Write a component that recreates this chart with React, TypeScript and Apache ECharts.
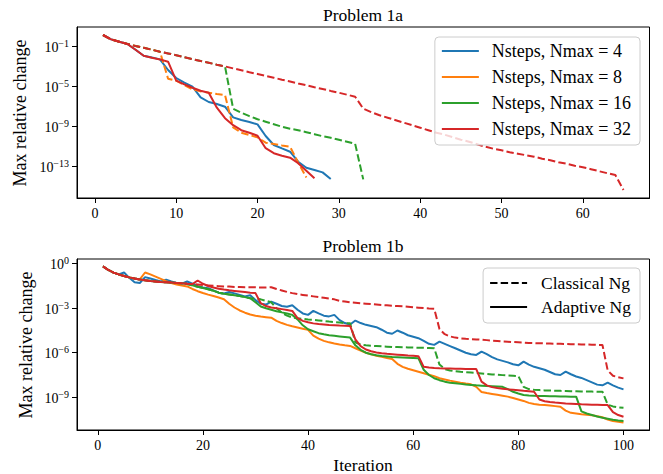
import React, { useEffect, useRef } from "react";
import * as echarts from "echarts";

const FONT = "Liberation Serif";

// ---- tick values (x: iteration, y: log10 exponent) ----
const P1A_X_TICKS = [0, 10, 20, 30, 40, 50, 60];
const P1A_Y_TICKS = [-13, -9, -5, -1];
const P1B_X_TICKS = [0, 20, 40, 60, 80, 100];
const P1B_Y_TICKS = [-9, -6, -3, 0];

const LEGEND_1A = ["Nsteps, Nmax = 4", "Nsteps, Nmax = 8", "Nsteps, Nmax = 16", "Nsteps, Nmax = 32"];
const LEGEND_1B = ["Classical Ng", "Adaptive Ng"];

// ---- Problem 1a: log10(max relative change), iteration 1..n ----
const p1aNmax4Adaptive = [0.17, -0.27, -0.5, -0.73, -1.3, -1.9, -2.07, -2.27, -3.33, -4.13, -4.6, -5.0, -6.07, -6.53, -6.73, -7.0, -8.07, -8.33, -8.53, -8.77, -9.93, -10.83, -11.17, -11.5, -12.5, -13.1, -13.33, -13.57, -14.23];
const p1aNmax8Classical = [0.17, -0.27, -0.5, -0.73, -0.93, -1.1, -1.3, -1.5, -4.2, -4.4, -4.83, -5.27, -5.47, -5.6, -5.73, -5.83, -9.07, -9.6, -9.83, -10.07, -10.6, -10.73, -10.87, -11.0, -12.6, -14.07];
const p1aNmax16Classical = [0.17, -0.27, -0.5, -0.73, -0.93, -1.1, -1.3, -1.5, -1.67, -1.85, -2.05, -2.25, -2.43, -2.6, -2.8, -2.97, -7.2, -7.6, -7.95, -8.25, -8.5, -8.75, -9.0, -9.2, -9.35, -9.55, -9.75, -9.95, -10.1, -10.3, -10.5, -10.7, -14.27];
const p1aNmax32Classical = [0.17, -0.27, -0.5, -0.73, -0.93, -1.1, -1.3, -1.5, -1.67, -1.85, -2.05, -2.25, -2.43, -2.6, -2.8, -2.97, -3.17, -3.35, -3.55, -3.73, -3.92, -4.1, -4.3, -4.48, -4.67, -4.85, -5.05, -5.23, -5.42, -5.6, -5.8, -6.0, -7.2, -7.55, -7.85, -8.1, -8.35, -8.6, -8.85, -9.1, -9.35, -9.6, -9.8, -10.05, -10.3, -10.5, -10.75, -11.0, -11.2, -11.35, -11.55, -11.7, -11.85, -12.0, -12.2, -12.35, -12.55, -12.7, -12.9, -13.05, -13.25, -13.45, -13.65, -13.83, -15.33];
const p1aNmax32Adaptive = [0.17, -0.27, -0.5, -0.73, -1.3, -1.9, -2.1, -2.27, -2.5, -4.4, -4.77, -5.1, -5.4, -5.6, -7.1, -8.15, -8.85, -9.35, -9.6, -9.9, -11.15, -11.65, -11.9, -12.1, -12.65, -13.4, -14.15];

// ---- Problem 1b: log10(max relative change), iteration 1..100 ----
const p1bNmax4Adaptive = [-0.18, -0.42, -0.6, -0.72, -0.59, -0.95, -1.25, -1.3, -0.9, -1.0, -1.1, -1.19, -1.08, -1.2, -1.3, -1.35, -1.2, -1.35, -1.5, -1.6, -1.65, -1.8, -1.95, -2.0, -1.9, -2.0, -2.1, -2.2, -2.12, -2.45, -2.7, -2.75, -2.55, -2.7, -2.85, -2.9, -2.8, -3.1, -3.35, -3.45, -3.18, -3.35, -3.5, -3.55, -3.45, -3.8, -4.0, -4.1, -3.83, -4.0, -4.12, -4.2, -4.28, -4.45, -4.65, -4.72, -4.5, -4.65, -4.82, -4.92, -5.02, -5.2, -5.4, -5.47, -5.25, -5.4, -5.55, -5.7, -5.85, -6.0, -6.1, -6.15, -5.92, -6.1, -6.3, -6.45, -6.55, -6.65, -6.78, -6.85, -6.6, -6.8, -6.95, -7.05, -7.15, -7.3, -7.45, -7.5, -7.27, -7.45, -7.6, -7.7, -7.85, -8.0, -8.15, -8.2, -8.02, -8.2, -8.35, -8.47];
const p1bNmax8Adaptive = [-0.18, -0.42, -0.6, -0.72, -0.83, -0.92, -1.0, -1.06, -0.59, -0.72, -0.87, -1.02, -1.17, -1.3, -1.4, -1.47, -1.53, -1.7, -1.85, -1.97, -2.08, -2.18, -2.28, -2.39, -2.7, -2.95, -3.15, -3.3, -3.42, -3.5, -3.56, -3.6, -3.64, -3.85, -4.0, -4.12, -4.22, -4.3, -4.38, -4.46, -4.85, -5.05, -5.2, -5.3, -5.38, -5.45, -5.5, -5.54, -5.7, -5.85, -6.0, -6.1, -6.2, -6.28, -6.35, -6.42, -6.75, -6.95, -7.08, -7.18, -7.28, -7.38, -7.48, -7.58, -7.72, -7.8, -7.88, -7.95, -8.02, -8.08, -8.13, -8.3, -8.65, -8.72, -8.78, -8.84, -8.9, -8.96, -9.05, -9.15, -9.25, -9.38, -9.45, -9.5, -9.53, -9.56, -9.6, -9.64, -9.9, -10.05, -10.1, -10.15, -10.18, -10.22, -10.28, -10.35, -10.5, -10.6, -10.65, -10.7];
const p1bNmax16Classical = [-0.18, -0.42, -0.6, -0.72, -0.83, -0.92, -1.0, -1.06, -1.12, -1.16, -1.19, -1.23, -1.25, -1.27, -1.3, -1.32, -1.36, -1.45, -1.55, -1.63, -1.72, -1.82, -1.95, -2.02, -2.07, -2.12, -2.18, -2.25, -2.32, -2.35, -2.4, -2.5, -2.6, -3.0, -3.3, -3.5, -3.62, -3.67, -3.72, -3.76, -3.78, -3.82, -3.86, -3.9, -3.93, -3.96, -4.0, -4.02, -5.3, -5.45, -5.5, -5.53, -5.55, -5.57, -5.59, -5.61, -5.62, -5.63, -5.64, -5.65, -5.66, -5.67, -5.68, -5.7, -6.8, -7.1, -7.2, -7.25, -7.29, -7.31, -7.34, -7.37, -7.4, -7.43, -7.46, -7.49, -7.51, -7.53, -7.55, -7.57, -8.3, -8.45, -8.5, -8.52, -8.54, -8.55, -8.56, -8.57, -8.58, -8.59, -8.6, -8.61, -8.61, -8.62, -8.63, -8.63, -9.5, -9.62, -9.68, -9.71];
const p1bNmax16Adaptive = [-0.18, -0.42, -0.6, -0.72, -0.83, -0.92, -1.0, -1.06, -1.12, -1.16, -1.19, -1.23, -1.25, -1.27, -1.3, -1.32, -1.36, -1.45, -1.55, -1.63, -1.72, -1.82, -1.95, -2.02, -2.07, -2.12, -2.18, -2.25, -2.32, -2.6, -2.88, -3.0, -3.1, -3.2, -3.28, -3.35, -3.45, -3.75, -4.15, -4.42, -4.55, -4.68, -4.76, -4.82, -4.86, -4.9, -4.94, -4.98, -5.5, -5.8, -6.0, -6.1, -6.17, -6.22, -6.25, -6.28, -6.3, -6.32, -6.34, -6.36, -6.38, -7.15, -7.5, -7.72, -7.85, -7.95, -8.02, -8.06, -8.1, -8.14, -8.17, -8.2, -8.22, -8.24, -8.26, -8.28, -8.3, -8.45, -8.63, -8.75, -8.85, -8.88, -8.9, -8.91, -8.92, -8.93, -8.94, -8.95, -8.95, -8.96, -8.96, -9.95, -10.1, -10.2, -10.3, -10.38, -10.45, -10.52, -10.57, -10.61];
const p1bNmax32Classical = [-0.18, -0.42, -0.6, -0.72, -0.83, -0.92, -1.0, -1.06, -1.12, -1.16, -1.19, -1.23, -1.25, -1.27, -1.3, -1.32, -1.35, -1.37, -1.4, -1.43, -1.46, -1.49, -1.51, -1.53, -1.54, -1.56, -1.57, -1.58, -1.58, -1.59, -1.6, -1.6, -1.58, -1.7, -1.8, -1.9, -1.98, -2.05, -2.1, -2.15, -2.2, -2.25, -2.3, -2.35, -2.4, -2.5, -2.55, -2.6, -2.63, -2.66, -2.69, -2.72, -2.75, -2.78, -2.8, -2.83, -2.85, -2.87, -2.9, -2.93, -2.96, -2.99, -3.02, -3.04, -4.4, -4.75, -4.9, -4.98, -5.03, -5.06, -5.08, -5.1, -5.12, -5.15, -5.18, -5.21, -5.24, -5.26, -5.28, -5.3, -5.32, -5.34, -5.35, -5.36, -5.37, -5.38, -5.39, -5.4, -5.41, -5.42, -5.43, -5.44, -5.45, -5.46, -5.47, -5.48, -7.2, -7.55, -7.65, -7.73];
const p1bNmax32Adaptive = [-0.18, -0.42, -0.6, -0.72, -0.83, -0.92, -1.0, -1.06, -1.12, -1.16, -1.19, -1.23, -1.25, -1.27, -1.3, -1.32, -1.35, -1.37, -1.13, -1.35, -1.5, -1.6, -1.68, -1.74, -1.79, -1.83, -1.87, -1.91, -1.95, -1.98, -2.66, -2.85, -2.95, -3.0, -3.06, -3.12, -3.18, -3.67, -3.85, -3.95, -4.02, -4.07, -4.1, -4.13, -4.15, -4.17, -4.18, -4.19, -5.1, -5.55, -5.78, -5.9, -5.98, -6.03, -6.07, -6.1, -6.13, -6.16, -6.19, -6.21, -6.23, -6.95, -7.0, -7.03, -7.05, -7.06, -7.07, -7.08, -7.08, -7.09, -7.09, -7.1, -7.95, -8.2, -8.32, -8.38, -8.43, -8.47, -8.5, -8.53, -8.57, -8.6, -8.63, -9.15, -9.27, -9.32, -9.36, -9.39, -9.42, -9.44, -9.46, -9.48, -9.49, -9.5, -9.51, -9.52, -9.53, -10.0, -10.2, -10.32];

const BLUE = "#1f77b4";
const ORANGE = "#ff7f0e";
const GREEN = "#2ca02c";
const RED = "#d62728";
const DASH = [7.4, 3.2];

const pts = (arr: number[]) => arr.map((v, i) => [i + 1, v]);

const expLabel = (v: number) => `{b|10}{s|${v < 0 ? "\u2212" : ""}${Math.abs(v)}}`;

const tickRich = {
  b: { fontFamily: FONT, fontSize: 14, color: "#000", lineHeight: 16, verticalAlign: "bottom" },
  s: { fontFamily: FONT, fontSize: 10, color: "#000", lineHeight: 10, verticalAlign: "top" },
};

function xAxisCfg(gridIndex: number, min: number, max: number, ticks: number[]) {
  return {
    type: "value",
    gridIndex,
    min,
    max,
    splitLine: { show: false },
    axisLine: { show: true, onZero: false, lineStyle: { color: "#000", width: 1 } },
    axisTick: { show: true, customValues: ticks, length: 5, lineStyle: { color: "#000", width: 1 } },
    axisLabel: { customValues: ticks, margin: 8, fontFamily: FONT, fontSize: 14, color: "#000" },
  };
}

function yAxisCfg(gridIndex: number, min: number, max: number, ticks: number[]) {
  return {
    type: "value",
    gridIndex,
    min,
    max,
    splitLine: { show: false },
    axisLine: { show: true, onZero: false, lineStyle: { color: "#000", width: 1 } },
    axisTick: { show: true, customValues: ticks, length: 5, lineStyle: { color: "#000", width: 1 } },
    axisLabel: { customValues: ticks, margin: 8, formatter: expLabel, rich: tickRich, fontFamily: FONT },
  };
}

function line(name: string, data: number[], color: string, dashed: boolean, g: number) {
  return {
    name,
    type: "line",
    xAxisIndex: g,
    yAxisIndex: g,
    data: pts(data),
    symbol: "none",
    showSymbol: false,
    silent: true,
    lineStyle: { color, width: 2, type: dashed ? DASH : "solid" },
    itemStyle: { color },
    emphasis: { disabled: true },
  };
}

const legendBase = {
  orient: "vertical",
  right: 23,
  backgroundColor: "rgba(255,255,255,0.8)",
  borderColor: "#cccccc",
  borderWidth: 1,
  borderRadius: 4,
  itemWidth: 37,
  itemHeight: 14,
  selectedMode: false,
  itemStyle: { opacity: 0 },
};

const textStyle = (text: string, size: number) => ({
  text,
  fontFamily: FONT,
  fontSize: size,
  fill: "#000",
  textAlign: "center",
  textVerticalAlign: "middle",
});

export default function App() {
  const ref = useRef<HTMLDivElement>(null);
  useEffect(() => {
    if (!ref.current) return;
    const chart = echarts.init(ref.current, null, { renderer: "svg" });
    const option: any = {
      animation: false,
      backgroundColor: "#fff",
      textStyle: { fontFamily: FONT },
      grid: [
        { left: 77, top: 27, right: 13.5, height: 171, show: true, borderColor: "#000", borderWidth: 1, outerBoundsMode: "none" },
        { left: 77, top: 259, right: 13.5, height: 171, show: true, borderColor: "#000", borderWidth: 1, outerBoundsMode: "none" },
      ],
      xAxis: [xAxisCfg(0, -2.2, 68.2, P1A_X_TICKS), xAxisCfg(1, -3.95, 104.95, P1B_X_TICKS)],
      yAxis: [yAxisCfg(0, -16.13, 0.97, P1A_Y_TICKS), yAxisCfg(1, -11.21, 0.32, P1B_Y_TICKS)],
      legend: [
        {
          ...legendBase,
          top: 37,
          padding: [5, 9, 7, 6],
          itemGap: 8,
          textStyle: { fontFamily: FONT, fontSize: 18, color: "#000", padding: [0, 0, 0, 8] },
          data: LEGEND_1A.map((n) => ({ name: n, lineStyle: { type: "solid", width: 2 } })),
        },
        {
          ...legendBase,
          top: 268,
          padding: [6, 9, 7, 6],
          itemGap: 6,
          textStyle: { fontFamily: FONT, fontSize: 17.5, color: "#000", padding: [0, 0, 0, 9] },
          data: LEGEND_1B.map((n) => ({ name: n })),
        },
      ],
      series: [
        line(LEGEND_1A[0], p1aNmax4Adaptive, BLUE, false, 0),
        line(LEGEND_1A[1], p1aNmax8Classical, ORANGE, true, 0),
        line(LEGEND_1A[2], p1aNmax16Classical, GREEN, true, 0),
        line("Nmax = 32 classical (1a)", p1aNmax32Classical, RED, true, 0),
        line(LEGEND_1A[3], p1aNmax32Adaptive, RED, false, 0),
        line("Nmax = 4 adaptive (1b)", p1bNmax4Adaptive, BLUE, false, 1),
        line("Nmax = 8 adaptive (1b)", p1bNmax8Adaptive, ORANGE, false, 1),
        line("Nmax = 16 classical (1b)", p1bNmax16Classical, GREEN, true, 1),
        line("Nmax = 16 adaptive (1b)", p1bNmax16Adaptive, GREEN, false, 1),
        line("Nmax = 32 classical (1b)", p1bNmax32Classical, RED, true, 1),
        line("Nmax = 32 adaptive (1b)", p1bNmax32Adaptive, RED, false, 1),
        line(LEGEND_1B[0], [], "#000", true, 1),
        line(LEGEND_1B[1], [], "#000", false, 1),
      ],
      graphic: [
        { type: "text", x: 363, y: 15, style: textStyle("Problem 1a", 17.5) },
        { type: "text", x: 363, y: 246, style: textStyle("Problem 1b", 17.5) },
        { type: "text", x: 363, y: 465, style: textStyle("Iteration", 17.5) },
        { type: "text", x: 20, y: 113, rotation: Math.PI / 2, style: textStyle("Max relative change", 18) },
        { type: "text", x: 26, y: 345, rotation: Math.PI / 2, style: textStyle("Max relative change", 18) },
      ],
    };
    chart.setOption(option);
    return () => chart.dispose();
  }, []);
  return <div ref={ref} style={{ width: 663, height: 474, position: "absolute", left: 0, top: 0 }} />;
}
